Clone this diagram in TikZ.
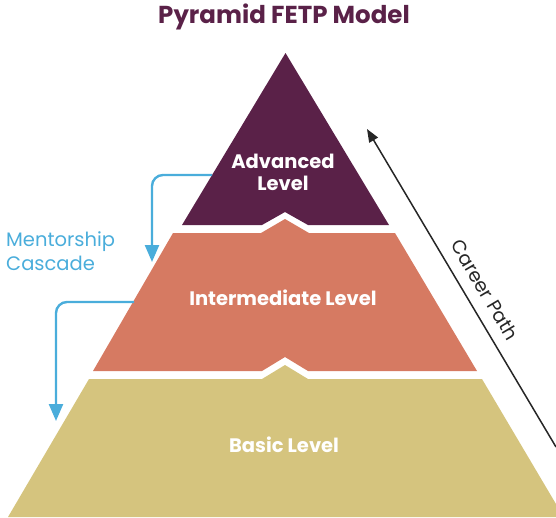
\documentclass[tikz,border=0pt]{standalone}
\usepackage{fontspec}
\setmainfont{Poppins}
\usetikzlibrary{arrows.meta}
\definecolor{advc}{HTML}{5A2148}
\definecolor{intc}{HTML}{D67A62}
\definecolor{basc}{HTML}{D5C47E}
\definecolor{cascc}{HTML}{4AADDB}
\tikzset{
  lvl/.style={text=white, font=\bfseries\fontsize{19.5}{22}\selectfont, align=center, inner sep=0pt},
  casc/.style={draw=cascc, line width=2.4pt, rounded corners=11pt, -{Triangle[width=14pt,length=17pt]}},
  career/.style={draw=black!85, line width=1.5pt, -{Triangle[width=10pt,length=13pt]}}
}
\begin{document}
\begin{tikzpicture}[x=1pt,y=-1pt]
\useasboundingbox (0,0) rectangle (556,517);
% levels
\fill[advc] (285.5,53) -- (389,225) -- (308,225) -- (285,212) -- (262,225) -- (182,225) -- cycle;
\fill[intc] (173,233) -- (261,233) -- (285,219) -- (309,233) -- (395,233) -- (477,371) -- (308,371) -- (285,357) -- (262,371) -- (93,371) -- cycle;
\fill[basc] (89,379) -- (262,379) -- (285,365) -- (308,379) -- (482,379) -- (556,504) -- (556,517) -- (8,517) -- cycle;
% labels
\node[text=advc, font=\bfseries\fontsize{24.5}{28}\selectfont, inner sep=0pt] (title) at (284,17) {Pyramid FETP Model};
\node[lvl] (adv) at (283,172) {Advanced\\Level};
\node[lvl] (int) at (283,298) {Intermediate Level};
\node[lvl] (bas) at (284,445) {Basic Level};
\node[text=cascc, font=\fontsize{19.5}{23.5}\selectfont, align=left, anchor=west, inner sep=0pt] (mc) at (6,251) {Mentorship\\Cascade};
% cascade arrows
\coordinate (c1s) at (212,175);
\coordinate (c1e) at (152,262);
\coordinate (c2s) at (134,302);
\coordinate (c2e) at (56,421);
\draw[casc] (c1s) -| (c1e);
\draw[casc] (c2s) -| (c2e);
% career path
\coordinate (cps) at (556,447);
\coordinate (cpe) at (367,129);
\draw[career] (cps) -- (cpe);
\node[rotate=-59.3, font=\fontsize{19}{22}\selectfont, text=black!85, inner sep=0pt] (cp) at (485,290) {Career Path};
\end{tikzpicture}
\end{document}
